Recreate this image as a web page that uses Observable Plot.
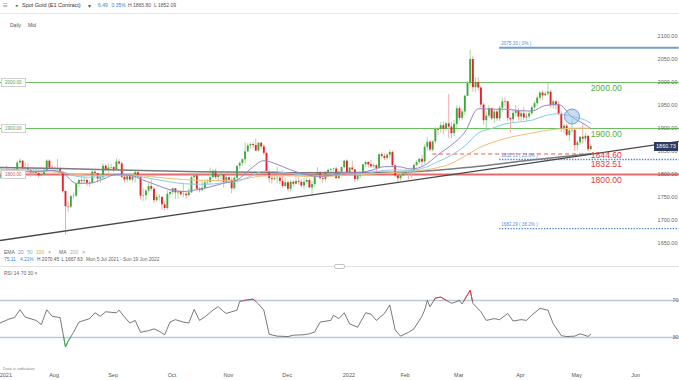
<!DOCTYPE html>
<html><head><meta charset="utf-8">
<script src="https://cdn.jsdelivr.net/npm/d3@7"></script>
<script src="https://cdn.jsdelivr.net/npm/@observablehq/plot@0.6"></script>
<style>
body{margin:0;background:#fff;}
#wrap{position:relative;width:679px;height:380px;overflow:hidden;background:#fff;font-family:"Liberation Sans",Arial,sans-serif;}
.t{position:absolute;white-space:nowrap;line-height:1;}
.pl{position:absolute;left:0;}
</style></head>
<body><div id="wrap"></div>
<script>
// ---------- DATA ----------
const candleOpen = [
1784,1792,1797,1803,1803, 1808,1806,1809,1825,1829, 1812,1813,1809,1803,1806, 1802,1797,1799,1806,1829,
1814,1813,1811,1813,1804, 1763,1730,1729,1752,1753, 1779,1787,1785,1787,1781, 1781,1805,1802,1790,1793,
1818,1810,1814,1815,1810, 1827,1823,1794,1788,1795, 1788,1794,1804,1794,1753, 1754,1764,1774,1768,1743,
1750,1750,1734,1726,1757, 1761,1769,1760,1762,1756, 1757,1754,1760,1793,1797, 1768,1765,1770,1782,1783,
1793,1807,1793,1798,1799, 1783,1793,1787,1769,1792, 1818,1824,1832,1849,1862, 1865,1863,1851,1868,1860,
1846,1806,1791,1789,1791, 1792,1785,1774,1782,1768, 1783,1779,1785,1783,1775, 1783,1787,1771,1778,1799,
1804,1791,1789,1803,1809, 1811,1812,1791,1805,1815, 1829,1801,1814,1810,1789, 1797,1801,1821,1826,1821,
1817,1819,1813,1843,1839, 1835,1842,1848,1819,1797, 1791,1797,1801,1807,1804, 1808,1820,1826,1833,1827,
1859,1870,1853,1871,1898, 1898,1906,1898,1910,1903, 1889,1909,1943,1922,1936, 1970,1998,2050,1989,2000,
1988,1951,1917,1927,1943, 1921,1936,1921,1944,1958, 1958,1922,1919,1933,1937, 1925,1932,1923,1925,1932,
1945,1954,1966,1977,1971, 1975,1979,1950,1958,1951, 1931,1898,1905,1885,1895, 1896,1863,1869,1881,1877,
1883,1854];
const candleHigh = [
1795,1815,1809,1818,1812, 1809,1815,1829,1834,1831, 1825,1823,1811,1812,1812, 1810,1807,1811,1832,1832,
1820,1817,1833,1815,1806, 1764,1740,1755,1759,1780, 1790,1795,1795,1791,1786, 1808,1810,1802,1800,1823,
1821,1823,1823,1817,1834, 1832,1827,1799,1800,1802, 1796,1809,1807,1796,1769, 1767,1781,1788,1771,1757,
1757,1752,1740,1765,1765, 1770,1770,1765,1765,1781, 1762,1770,1796,1800,1797, 1772,1785,1788,1789,1814,
1810,1811,1801,1803,1800, 1797,1795,1793,1796,1818, 1827,1834,1869,1867,1869, 1870,1877,1869,1870,1865,
1848,1810,1800,1796,1815, 1802,1808,1792,1786,1787, 1787,1793,1793,1789,1791, 1792,1791,1785,1804,1815,
1807,1796,1806,1812,1812, 1814,1816,1807,1816,1831, 1832,1815,1829,1811,1800, 1804,1822,1829,1828,1831,
1823,1822,1845,1847,1845, 1845,1853,1851,1821,1800, 1801,1807,1810,1809,1815, 1823,1830,1836,1842,1865,
1879,1873,1873,1902,1902, 1913,1914,1914,1974,1913, 1917,1950,1948,1941,1972, 2002,2070,2057,2010,2010,
1990,1955,1936,1950,1945, 1941,1940,1949,1966,1966, 1960,1923,1939,1950,1943, 1937,1945,1934,1937,1949,
1958,1970,1981,1982,1980, 1998,1982,1961,1960,1958, 1936,1909,1909,1901,1920, 1899,1873,1882,1909,1890,
1884,1866];
const candleLow = [
1782,1789,1795,1797,1796, 1792,1799,1805,1823,1810, 1795,1806,1794,1797,1796, 1792,1795,1797,1804,1810,
1807,1805,1805,1796,1759, 1668,1718,1726,1746,1750, 1771,1778,1780,1774,1772, 1780,1797,1781,1781,1789,
1806,1800,1809,1804,1808, 1820,1791,1782,1782,1786, 1782,1781,1791,1745,1742, 1742,1760,1764,1737,1740,
1742,1722,1721,1722,1748, 1755,1746,1746,1753,1750, 1746,1752,1759,1790,1764, 1760,1763,1765,1777,1778,
1791,1790,1784,1788,1771, 1781,1781,1758,1767,1782, 1811,1818,1823,1848,1855, 1856,1849,1850,1854,1841,
1802,1781,1779,1786,1780, 1778,1770,1772,1762,1762, 1772,1777,1777,1770,1766, 1781,1770,1753,1772,1797,
1788,1781,1784,1800,1805, 1805,1790,1789,1795,1812, 1798,1798,1807,1782,1785, 1791,1800,1815,1814,1813,
1812,1805,1811,1834,1830, 1831,1834,1815,1793,1780, 1785,1795,1798,1788,1791, 1806,1817,1822,1815,1822,
1851,1849,1849,1866,1885, 1890,1887,1894,1878,1878, 1882,1900,1916,1918,1929, 1970,1992,1979,1978,1981,
1945,1907,1895,1922,1917, 1911,1915,1915,1935,1947, 1915,1890,1913,1925,1916, 1915,1917,1915,1920,1929,
1940,1948,1960,1961,1970, 1972,1945,1942,1940,1927, 1891,1888,1882,1872,1890, 1850,1851,1864,1866,1870,
1850,1852];
const candleClose = [
1792,1797,1803,1802,1808, 1806,1809,1825,1829,1812, 1813,1809,1803,1806,1802, 1797,1799,1806,1829,1814,
1813,1811,1813,1804,1763, 1730,1729,1752,1753,1779, 1787,1785,1787,1781,1782, 1805,1802,1790,1793,1818,
1810,1814,1815,1810,1827, 1823,1794,1788,1795,1788, 1794,1804,1794,1753,1754, 1764,1774,1768,1743,1750,
1751,1734,1726,1757,1761, 1769,1760,1762,1756,1757, 1754,1760,1793,1797,1768, 1765,1770,1782,1783,1793,
1807,1793,1798,1799,1783, 1793,1787,1769,1792,1818, 1824,1832,1849,1862,1865, 1863,1851,1868,1860,1846,
1806,1791,1789,1791,1792, 1785,1774,1782,1768,1783, 1779,1785,1783,1775,1783, 1787,1771,1778,1799,1804,
1791,1789,1803,1809,1811, 1812,1791,1805,1815,1829, 1801,1814,1810,1789,1797, 1801,1821,1826,1821,1817,
1819,1813,1843,1839,1835, 1842,1848,1819,1797,1791, 1797,1801,1807,1804,1808, 1820,1826,1833,1827,1859,
1870,1853,1871,1898,1896, 1906,1898,1910,1903,1889, 1909,1943,1922,1936,1970, 1998,2050,1989,2000,1988,
1951,1917,1927,1943,1921, 1936,1921,1944,1958,1957, 1922,1919,1933,1937,1925, 1932,1923,1925,1932,1945,
1954,1966,1977,1971,1975, 1979,1950,1958,1951,1931, 1898,1905,1885,1895,1896, 1863,1869,1881,1877,1883,
1854,1861];
const firstSession = "2021-07-05";

const ema20Dates = ["2021-07-05","2021-07-09","2021-07-16","2021-07-23","2021-07-30","2021-08-06","2021-08-13","2021-08-20","2021-08-27","2021-09-03","2021-09-10","2021-09-17","2021-09-24","2021-10-01","2021-10-08","2021-10-15","2021-10-22","2021-10-29","2021-11-05","2021-11-12","2021-11-19","2021-11-26","2021-12-03","2021-12-10","2021-12-17","2021-12-24","2021-12-31","2022-01-07","2022-01-14","2022-01-21","2022-01-28","2022-02-04","2022-02-11","2022-02-18","2022-02-25","2022-03-04","2022-03-11","2022-03-18","2022-03-25","2022-04-01","2022-04-08","2022-04-15","2022-04-22","2022-04-29","2022-05-06","2022-05-10"];
const ema20Values = [1797,1799,1806,1806,1809,1803,1781,1781,1790,1800,1798,1788,1777,1767,1763,1767,1773,1781,1788,1812,1830,1822,1810,1801,1796,1798,1804,1804,1809,1817,1817,1812,1820,1843,1864,1892,1943,1942,1942,1939,1938,1950,1952,1925,1908,1900];
const ema50Dates = ["2021-07-05","2021-07-16","2021-07-30","2021-08-06","2021-08-13","2021-08-20","2021-08-27","2021-09-03","2021-09-10","2021-09-17","2021-09-24","2021-10-01","2021-10-08","2021-10-15","2021-10-22","2021-10-29","2021-11-05","2021-11-12","2021-11-19","2021-11-26","2021-12-03","2021-12-10","2021-12-17","2021-12-24","2021-12-31","2022-01-07","2022-01-14","2022-01-21","2022-01-28","2022-02-04","2022-02-11","2022-02-18","2022-02-25","2022-03-04","2022-03-11","2022-03-18","2022-03-25","2022-04-01","2022-04-08","2022-04-15","2022-04-22","2022-04-29","2022-05-06","2022-05-10"];
const ema50Values = [1812,1810,1809,1806,1796,1794,1796,1799,1799,1794,1789,1784,1780,1779,1779,1782,1785,1796,1807,1806,1802,1799,1798,1799,1802,1801,1804,1809,1810,1809,1815,1828,1842,1862,1890,1900,1910,1914,1918,1928,1932,1926,1918,1912];
const ema100Dates = ["2021-07-05","2021-07-30","2021-08-13","2021-08-27","2021-09-10","2021-09-24","2021-10-08","2021-10-22","2021-11-05","2021-11-19","2021-12-03","2021-12-17","2021-12-31","2022-01-14","2022-01-28","2022-02-11","2022-02-25","2022-03-04","2022-03-11","2022-03-25","2022-04-08","2022-04-22","2022-05-06","2022-05-10"];
const ema100Values = [1806,1806,1800,1798,1799,1794,1789,1787,1788,1797,1797,1795,1798,1801,1805,1810,1824,1840,1857,1878,1890,1899,1901,1899];
const ma200Dates = ["2021-07-05","2021-08-05","2021-09-06","2021-10-18","2021-12-08","2022-01-31","2022-03-08","2022-04-07","2022-05-10"];
const ma200Values = [1815,1813,1810,1806,1804,1805,1816,1831,1845];

const trendDates = ["2021-07-05","2022-06-24"];
const trendPrices = [1656,1872];

const rsiDates = ["2021-07-05","2021-07-09","2021-07-13","2021-07-15","2021-07-19","2021-07-23","2021-07-27","2021-07-29","2021-08-02","2021-08-05","2021-08-06","2021-08-09","2021-08-10","2021-08-12","2021-08-16","2021-08-20","2021-08-24","2021-08-26","2021-08-30","2021-09-03","2021-09-06","2021-09-08","2021-09-10","2021-09-14","2021-09-16","2021-09-21","2021-09-23","2021-09-27","2021-09-29","2021-10-01","2021-10-05","2021-10-08","2021-10-12","2021-10-14","2021-10-18","2021-10-20","2021-10-25","2021-10-27","2021-10-29","2021-11-01","2021-11-05","2021-11-08","2021-11-11","2021-11-15","2021-11-17","2021-11-19","2021-11-23","2021-11-26","2021-12-02","2021-12-06","2021-12-10","2021-12-14","2021-12-16","2021-12-20","2021-12-24","2021-12-27","2021-12-29","2021-12-31","2022-01-04","2022-01-07","2022-01-12","2022-01-14","2022-01-18","2022-01-21","2022-01-25","2022-01-27","2022-01-31","2022-02-03","2022-02-07","2022-02-10","2022-02-11","2022-02-14","2022-02-15","2022-02-17","2022-02-21","2022-02-25","2022-02-28","2022-03-02","2022-03-03","2022-03-07","2022-03-08","2022-03-09","2022-03-14","2022-03-16","2022-03-21","2022-03-23","2022-03-28","2022-03-30","2022-04-04","2022-04-06","2022-04-08","2022-04-13","2022-04-18","2022-04-20","2022-04-25","2022-04-27","2022-05-02","2022-05-04","2022-05-09","2022-05-10"];
const rsiValues = [45,50,51.5,60,52,48.5,44,60,53,51.5,35.6,19.7,26,35.6,46.7,50.4,56.7,53,57.8,56.7,59.6,52.2,45.6,48.5,35.6,37.4,39.3,36.7,33,46.7,49.3,46.7,45.6,60.4,48.5,52.2,59.6,63.3,58,56,59.6,68.9,70.7,71.5,66.3,59.6,33.5,31.5,31,32.5,33,34,36,46.7,48.5,54,50.4,56.7,44.8,41.1,56.7,55.2,48.5,55.9,65.2,38.2,31.5,35.6,39.3,53,59.6,70,63.3,72.6,73.7,67,67.8,70,66.3,76.3,81.1,67,57.8,48.5,50.4,49.3,56,47.8,49.3,48.5,54.1,61.5,59.6,44.8,32,31,31.5,34,31.2,33.5];
const rsiLevels = [70, 30];

const priceTicks = [2100,2050,2000,1950,1900,1850,1800,1750,1700,1650];
const greenLevels = [2000, 1900];
const redLevels = [1800];
const fibTopLevel = [2075.33];
const fibLevels = [1832.51, 1682.29];
const fibLabels = ["2075.33 ( 0% )", "1832.51 ( 23.6% )", "1682.29 ( 38.2% )"];
const fibLabelPrices = [2075.33, 1832.51, 1682.29];
const fibStartDate = "2022-03-23";
const chartEndDate = "2022-06-24";
const supportLevel = [1844.60];
const supportStart = "2022-02-16";
const supportEnd = "2022-05-09";
const circleDate = ["2022-04-29"];
const circlePrice = [1926];
const lastPrice = 1860.73;

const monthTickDates = ["2021-07-07","2021-08-02","2021-09-01","2021-10-01","2021-11-01","2021-12-01","2022-01-03","2022-02-01","2022-03-01","2022-04-01","2022-05-02","2022-06-01"];
const monthTickLabels = ["2021","Aug","Sep","Oct","Nov","Dec","2022","Feb","Mar","Apr","May","Jun"];

// ---------- HELPERS ----------
const DAY = 864e5;
const base = Date.parse(firstSession);
const toDate = s => new Date(s);
// position on the session axis (weekends collapsed)
function sessionIndex(d) {
  const t = (d instanceof Date ? d.getTime() : Date.parse(d));
  const days = (t - base) / DAY;
  const w = Math.floor(days / 7);
  const r = days - 7 * w;
  return 5 * w + Math.min(r, 5);
}
const candles = candleClose.map((c, i) => ({
  date: new Date(base + (Math.floor(i / 5) * 7 + (i % 5)) * DAY),
  o: candleOpen[i], h: candleHigh[i], l: candleLow[i], c,
  up: c >= candleOpen[i]
}));
const series = (ds, vs) => ds.map((d, i) => ({date: toDate(d), v: vs[i]}));
const ema20 = series(ema20Dates, ema20Values);
const ema50 = series(ema50Dates, ema50Values);
const ema100 = series(ema100Dates, ema100Values);
const ma200 = series(ma200Dates, ma200Values);
const trend = series(trendDates, trendPrices);
const rsi = series(rsiDates, rsiValues);
const months = monthTickDates.map((d, i) => ({date: toDate(d), label: monthTickLabels[i]}));
const fibLab = fibLabels.map((t, i) => ({date: toDate(fibStartDate), p: fibLabelPrices[i], t}));

const W = 679;
const xScale = {type: "linear", domain: [0.75, 254.1], range: [0, W], transform: sessionIndex, axis: null};
const FONT = '"Liberation Sans", Arial, sans-serif';

const GREEN_LINE = "#6cbf5f", RED_LINE = "#e46c6c", FIB = "#5b8fd0";

// ---------- MAIN PRICE PANEL ----------
const lastDate = candles[candles.length - 1].date;
const bigLabel = (vals, txt, color, dy) => Plot.text(vals, {
  x: () => lastDate, y: d => d, text: () => txt, textAnchor: "start", dx: 0, dy,
  fill: color, fontSize: 8.6, fontWeight: 500, letterSpacing: 0.3
});

const main = Plot.plot({
  width: W, height: 265, margin: 0,
  style: {background: "transparent", fontFamily: FONT, overflow: "visible"},
  x: xScale,
  y: {domain: [2100, 1650], range: [36, 243], axis: null},
  marks: [
    Plot.ruleY(greenLevels, {stroke: GREEN_LINE, strokeWidth: 1.1}),
    Plot.ruleY(redLevels, {stroke: RED_LINE, strokeWidth: 1.8}),
    Plot.ruleY(fibTopLevel, {x1: () => toDate(fibStartDate), x2: () => toDate(chartEndDate), stroke: "#6f9fd6", strokeWidth: 2}),
    Plot.ruleY(fibLevels, {x1: () => toDate(fibStartDate), x2: () => toDate(chartEndDate), stroke: "#4f86c9", strokeWidth: 1.4, strokeDasharray: "1.4,1.4"}),
    Plot.ruleY(supportLevel, {x1: () => toDate(supportStart), x2: () => toDate(supportEnd), stroke: "#e25a5a", strokeWidth: 1.1, strokeDasharray: "4,3"}),
    // candles
    Plot.ruleX(candles, {x: "date", y1: "l", y2: "h", stroke: d => d.up ? "#9ed49a" : "#f3a0a0", strokeWidth: 0.9}),
    Plot.ruleX(candles, {x: "date", y1: "o", y2: "c", stroke: d => d.up ? "#3ea83a" : "#e6232b", strokeWidth: 1.9}),
    // indicators
    Plot.line(ma200, {x: "date", y: "v", stroke: "#7b7b7b", strokeWidth: 1.5, curve: "monotone-x"}),
    Plot.line(ema100, {x: "date", y: "v", stroke: "#f2bb78", strokeWidth: 1, curve: "monotone-x"}),
    Plot.line(ema50, {x: "date", y: "v", stroke: "#86cde2", strokeWidth: 1, curve: "monotone-x"}),
    Plot.line(ema20, {x: "date", y: "v", stroke: "#9487c6", strokeWidth: 1, curve: "monotone-x"}),
    Plot.line(trend, {x: "date", y: "v", stroke: "#474747", strokeWidth: 1.3}),
    Plot.dot(circleDate.map((d, i) => ({date: toDate(d), p: circlePrice[i]})), {x: "date", y: "p", r: 7.5, fill: "#8fbbe8", fillOpacity: 0.5, stroke: "#5f95d0", strokeWidth: 0.9}),
    // labels
    Plot.text(fibLab, {x: "date", y: "p", text: "t", textAnchor: "start", dx: 1.5, dy: -4, fontSize: 4.6, fill: FIB}),
    bigLabel([2000], "2000.00", "#4cae45", 6),
    bigLabel([1900], "1900.00", "#4cae45", 6),
    bigLabel([1844.60], "1844.60", "#e0393e", 1),
    bigLabel([1832.51], "1832.51", "#e0393e", 4.5),
    bigLabel([1800], "1800.00", "#e0393e", 6),
    Plot.text(priceTicks, {y: d => d, text: d => d3.format(".2f")(d), frameAnchor: "right", textAnchor: "end", dx: -2, fontSize: 5.5, fill: "#666"})
  ]
});
main.classList.add("pl");
main.style.top = "0px";

// ---------- RSI PANEL ----------
const rsiPlot = Plot.plot({
  width: W, height: 115, margin: 0,
  style: {background: "transparent", fontFamily: FONT, overflow: "visible"},
  x: xScale,
  y: {domain: [70, 30], range: [35, 72], axis: null},
  marks: [
    Plot.ruleY(rsiLevels, {stroke: "#b9c9da", strokeWidth: 1.6}),
    Plot.line(rsi, {x: "date", y: "v", stroke: "#555", strokeWidth: 0.8}),
    Plot.line(rsi, {x: "date", y: "v", stroke: "#e8383d", strokeWidth: 0.9}),
    Plot.line(rsi, {x: "date", y: "v", stroke: "#3cb44b", strokeWidth: 0.9}),
    Plot.text(rsiLevels, {y: d => d, text: d => String(d), frameAnchor: "right", textAnchor: "end", dx: -1, fontSize: 5.5, fill: "#666"}),
    Plot.text(months, {x: "date", text: "label", frameAnchor: "bottom", dy: -4, dx: 2, fontSize: 5.5, fill: "#555"})
  ]
});
rsiPlot.classList.add("pl");
rsiPlot.style.top = "265px";
{
  const ry = rsiPlot.scale("y");
  const ns = "http://www.w3.org/2000/svg";
  const defs = document.createElementNS(ns, "defs");
  const mk = (id, y0, y1) => {
    const cp = document.createElementNS(ns, "clipPath"); cp.setAttribute("id", id);
    const r = document.createElementNS(ns, "rect");
    r.setAttribute("x", 0); r.setAttribute("width", W);
    r.setAttribute("y", y0); r.setAttribute("height", y1 - y0);
    cp.appendChild(r); defs.appendChild(cp);
  };
  mk("clipOver", -50, ry.apply(70));
  mk("clipUnder", ry.apply(30), 200);
  rsiPlot.insertBefore(defs, rsiPlot.firstChild);
  const lines = rsiPlot.querySelectorAll('g[aria-label="line"]');
  lines[1].setAttribute("clip-path", "url(#clipOver)");
  lines[2].setAttribute("clip-path", "url(#clipUnder)");
}

// ---------- ASSEMBLE ----------
const wrap = document.getElementById("wrap");
wrap.appendChild(main);
wrap.appendChild(rsiPlot);

function txt(s, x, yc, size, color, extra) {
  const e = document.createElement("div");
  e.className = "t";
  e.textContent = s;
  e.style.left = x + "px";
  e.style.top = (yc - size * 0.55) + "px";
  e.style.fontSize = size + "px";
  e.style.color = color;
  if (extra) Object.assign(e.style, extra);
  wrap.appendChild(e);
  return e;
}
function hline(y, color, x0 = 0, w = W) {
  const e = document.createElement("div");
  Object.assign(e.style, {position: "absolute", left: x0 + "px", top: y + "px", width: w + "px", height: "1px", background: color});
  wrap.appendChild(e);
}
// header
txt("≡", 3, 6, 8, "#888");
txt("●", 15, 6, 5, "#2aa52a");
txt("Spot Gold (E1 Contract)", 22, 6, 5.5, "#333");
txt("▾", 88, 6, 6, "#555");
txt("6.49", 98, 6, 5, "#3b82d6");
txt("0.35%", 111.5, 6, 5, "#3b82d6");
txt("H 1865.80", 128, 6, 5, "#555");
txt("L 1852.09", 154, 6, 5, "#555");
hline(13, "#e6e6e6");
txt("Daily", 10, 26, 5, "#555");
txt("Mid", 28, 26, 5, "#555");
// legend
txt("EMA", 4, 253, 5, "#666");
txt("20", 18, 253, 5, "#8e7fc4");
txt("50", 27, 253, 5, "#5bbfd9");
txt("100", 36, 253, 5, "#eea23e");
txt("×", 48, 253, 5.5, "#999");
txt("MA", 59, 253, 5, "#666");
txt("200", 70, 253, 5, "#aaa");
txt("×", 82, 253, 5.5, "#999");
txt("75.11", 4, 261, 4.8, "#3b82d6");
txt("4.21%", 20, 261, 4.8, "#3b82d6");
txt("H 2070.45", 37, 261, 4.8, "#555");
txt("L 1667.63", 61.5, 261, 4.8, "#555");
txt("Mon 5 Jul 2021 - Sun 19 Jun 2022", 86, 261, 4.8, "#666");
// panel separator
hline(266, "#e2e2e2");
{
  const h = document.createElement("div");
  Object.assign(h.style, {position: "absolute", left: "334px", top: "263.5px", width: "11px", height: "5px", border: "1px solid #c4c4c4", borderRadius: "2px", background: "#fff", boxSizing: "border-box"});
  wrap.appendChild(h);
}
txt("RSI  14  70  30  ×", 4, 274, 5, "#666");
txt("Data is indicative", 3, 369, 4.2, "#888");
// level boxes on the left
const ys = main.scale("y");
[[2000, "#5aa552"], [1900, "#5aa552"], [1800, "#d05a5a"]].forEach(([v, c]) => {
  const b = txt(d3.format(".2f")(v), 1, ys.apply(v), 4.6, c, {});
  Object.assign(b.style, {border: "1px solid #cfcfcf", background: "#fff", padding: "1px 3px", width: "17px", top: (ys.apply(v) - 4) + "px", lineHeight: "5px"});
});
// current price tag
{
  const y = ys.apply(lastPrice);
  const b = txt(d3.format(".2f")(lastPrice), 654, y, 5.5, "#fff", {});
  Object.assign(b.style, {background: "#2b3c5c", width: "24px", height: "9px", top: (y - 4.5) + "px", lineHeight: "9px", textAlign: "center"});
}
</script>
</body></html>
